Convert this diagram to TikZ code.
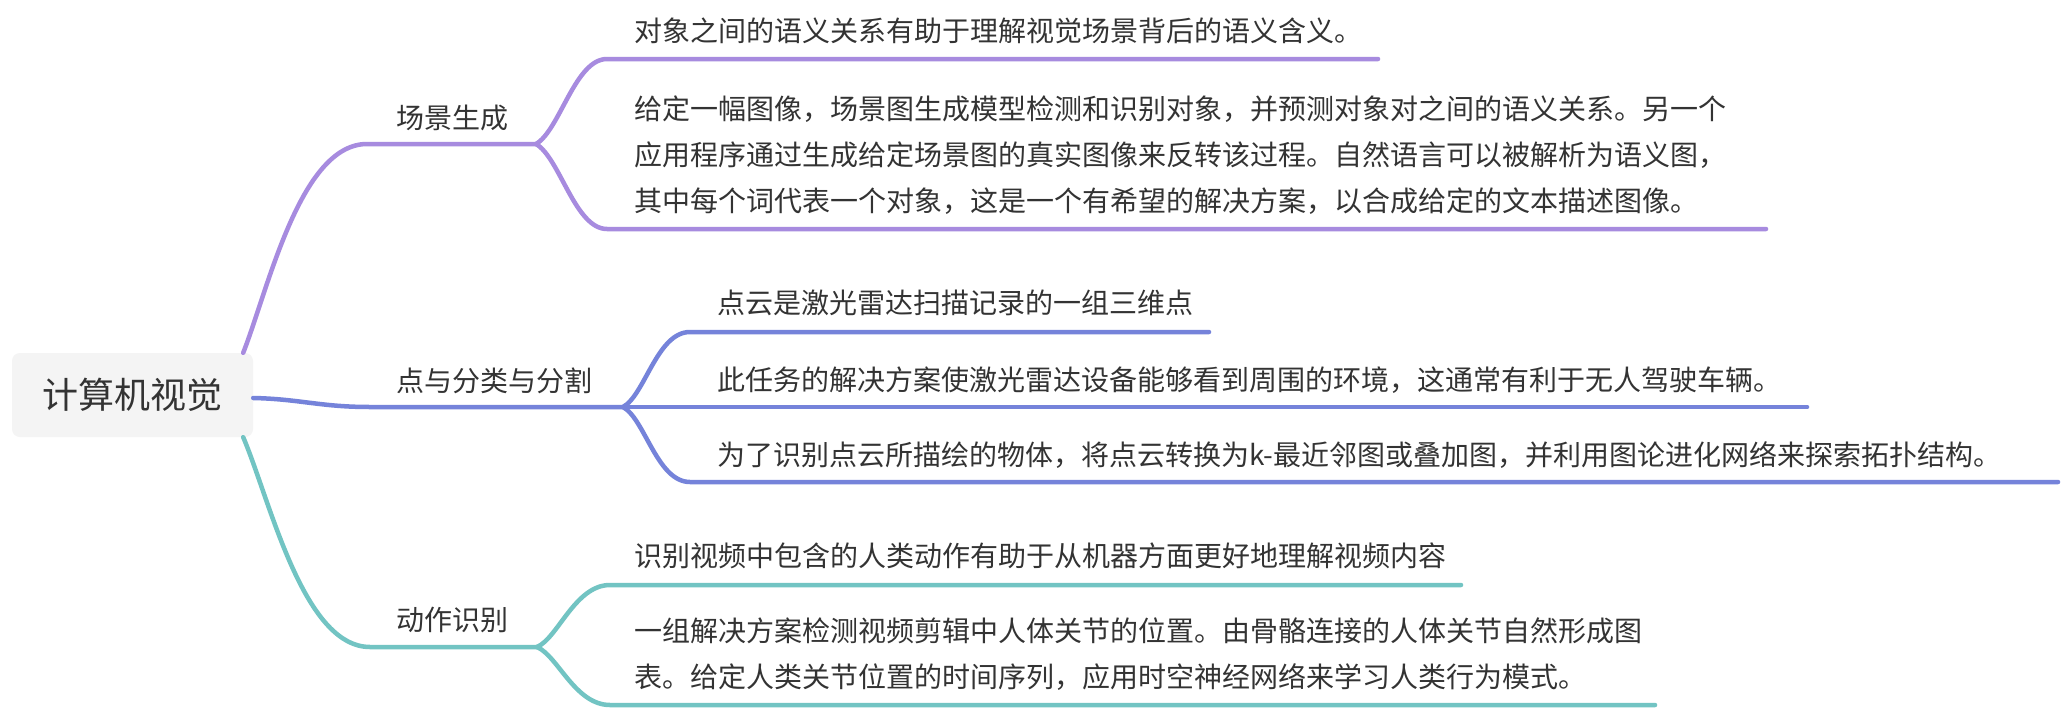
\documentclass[tikz,border=0pt]{standalone}
\usepackage{fontspec}
\newfontfamily\cjk{Noto Sans CJK SC}
\definecolor{pur}{HTML}{A78BDF}
\definecolor{blu}{HTML}{7583DA}
\definecolor{tea}{HTML}{72C4C3}
\definecolor{txt}{HTML}{333333}
\definecolor{boxfill}{HTML}{F4F4F4}
\begin{document}
\begin{tikzpicture}[x=1pt,y=-1pt,
  lbl/.style={anchor=base west, inner sep=0pt, font=\cjk\fontsize{28}{34}\selectfont, text=txt},
  rootbox/.style={fill=boxfill, rounded corners=8pt, minimum width=241pt, minimum height=84pt, inner sep=0pt, font=\cjk\fontsize{36}{40}\selectfont, text=txt},
  link/.style={line width=4.5pt, line cap=round, line join=round}]
\useasboundingbox (0,0) rectangle (2068,712);
\fill[white] (0,0) rectangle (2068,712);

% root
\node[rootbox] (root) at (132.5,395) {计算机视觉};

% level 1
\node[lbl] (c1) at (396,128) {场景生成};
\node[lbl] (c2) at (396,391) {点与分类与分割};
\node[lbl] (c3) at (396,630) {动作识别};

% level 2 - scene generation
\node[lbl] (s1) at (634,41) {对象之间的语义关系有助于理解视觉场景背后的语义含义。};
\node[lbl] (s2a) at (634,119) {给定一幅图像，场景图生成模型检测和识别对象，并预测对象对之间的语义关系。另一个};
\node[lbl] (s2b) at (634,165) {应用程序通过生成给定场景图的真实图像来反转该过程。自然语言可以被解析为语义图，};
\node[lbl] (s2c) at (634,211) {其中每个词代表一个对象，这是一个有希望的解决方案，以合成给定的文本描述图像。};

% level 2 - point cloud
\node[lbl] (p1) at (717,313) {点云是激光雷达扫描记录的一组三维点};
\node[lbl] (p2) at (717,390) {此任务的解决方案使激光雷达设备能够看到周围的环境，这通常有利于无人驾驶车辆。};
\node[lbl] (p3) at (717,465) {为了识别点云所描绘的物体，将点云转换为k-最近邻图或叠加图，并利用图论进化网络来探索拓扑结构。};

% level 2 - action recognition
\node[lbl] (a1) at (634,566) {识别视频中包含的人类动作有助于从机器方面更好地理解视频内容};
\node[lbl] (a2a) at (634,641) {一组解决方案检测视频剪辑中人体关节的位置。由骨骼连接的人体关节自然形成图};
\node[lbl] (a2b) at (634,687) {表。给定人类关节位置的时间序列，应用时空神经网络来学习人类行为模式。};

% coordinates of underlines
\coordinate (c1s) at (367,144);  \coordinate (c1e) at (536,144);
\coordinate (c2s) at (370,407);  \coordinate (c2e) at (623,407);
\coordinate (c3s) at (370,647);  \coordinate (c3e) at (537,647);
\coordinate (s1l) at (607,59);   \coordinate (s1r) at (1378,59);
\coordinate (s2l) at (607,229);  \coordinate (s2r) at (1766,229);
\coordinate (p1l) at (690,332);  \coordinate (p1r) at (1209,332);
\coordinate (p2r) at (1807,407);
\coordinate (p3l) at (690,482);  \coordinate (p3r) at (2058,482);
\coordinate (a1l) at (610,585);  \coordinate (a1r) at (1461,585);
\coordinate (a2l) at (610,705);  \coordinate (a2r) at (1655,705);

% purple branch
\draw[link,pur] ([xshift=-10pt]root.north east) .. controls (268,290) and (300,144) .. (c1s) -- (c1e);
\draw[link,pur] (c1e) .. controls (560,130) and (575,59) .. (s1l) -- (s1r);
\draw[link,pur] (c1e) .. controls (560,158) and (575,229) .. (s2l) -- (s2r);

% blue branch
\draw[link,blu] ([yshift=-3pt]root.east) .. controls (300,399) and (320,407) .. (c2s) -- (c2e);
\draw[link,blu] (c2e) .. controls (645,395) and (657,332) .. (p1l) -- (p1r);
\draw[link,blu] (c2e) -- (p2r);
\draw[link,blu] (c2e) .. controls (645,419) and (657,482) .. (p3l) -- (p3r);

% teal branch
\draw[link,tea] ([xshift=-10pt]root.south east) .. controls (270,500) and (303,647) .. (c3s) -- (c3e);
\draw[link,tea] (c3e) .. controls (558,638) and (575,585) .. (a1l) -- (a1r);
\draw[link,tea] (c3e) .. controls (558,656) and (575,705) .. (a2l) -- (a2r);
\end{tikzpicture}
\end{document}
